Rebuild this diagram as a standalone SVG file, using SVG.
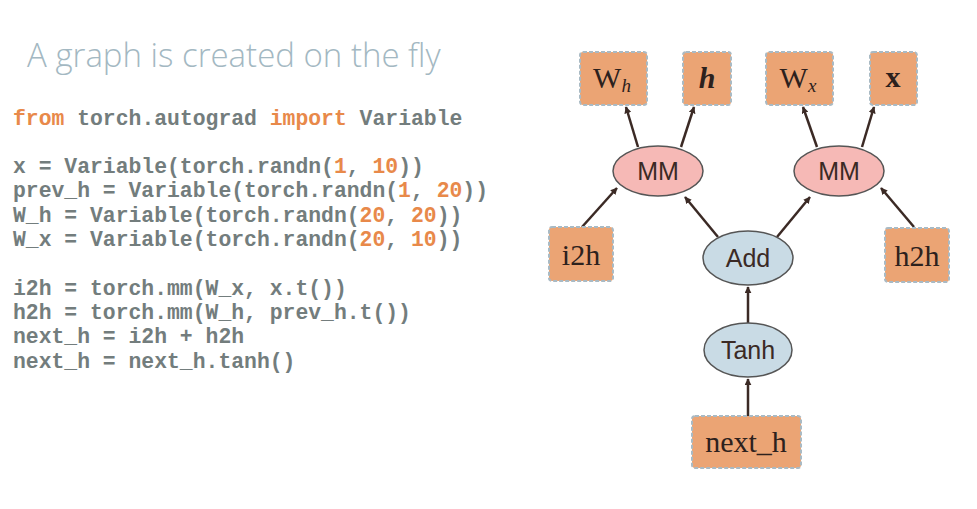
<svg xmlns="http://www.w3.org/2000/svg" width="977" height="509" viewBox="0 0 977 509">
<defs>
<marker id="ah" viewBox="0 0 10 10" refX="9" refY="5" markerWidth="7" markerHeight="7" markerUnits="userSpaceOnUse" orient="auto"><path d="M0,0 L10,5 L0,10 z" fill="#3b2a25"/></marker>
</defs>
<style>
.title{font-family:"Open Sans",sans-serif;font-weight:300;font-size:33px;fill:#a3b8c2}
.code{font-family:"Liberation Mono",monospace;font-weight:bold;font-size:21.4px;fill:#737d7d;white-space:pre}
.kw{fill:#e8894a}
.box{fill:#eba474;stroke:#a9bac4;stroke-width:2;stroke-dasharray:4 2}
.mm{fill:#f6b9b6;stroke:#555;stroke-width:1.5}
.op{fill:#c9dbe5;stroke:#555;stroke-width:1.5}
.lbl{font-family:"Liberation Sans",sans-serif;font-size:25px;fill:#3b2a25;text-anchor:middle}
.tex{font-family:"Liberation Serif",serif;font-size:30px;fill:#2d211d;text-anchor:middle}
.edge{stroke:#3b2a25;stroke-width:2.5;fill:none;marker-end:url(#ah)}
</style>
<rect width="977" height="509" fill="#fff"/>
<text class="title" x="27" y="67">A graph is created on the fly</text>
<g id="code">
<text class="code" x="13" y="125"><tspan class="kw">from</tspan> torch.autograd <tspan class="kw">import</tspan> Variable</text>
<text class="code" x="13" y="173">x = Variable(torch.randn(<tspan class="kw">1</tspan>, <tspan class="kw">10</tspan>))</text>
<text class="code" x="13" y="197">prev_h = Variable(torch.randn(<tspan class="kw">1</tspan>, <tspan class="kw">20</tspan>))</text>
<text class="code" x="13" y="222">W_h = Variable(torch.randn(<tspan class="kw">20</tspan>, <tspan class="kw">20</tspan>))</text>
<text class="code" x="13" y="246">W_x = Variable(torch.randn(<tspan class="kw">20</tspan>, <tspan class="kw">10</tspan>))</text>
<text class="code" x="13" y="295">i2h = torch.mm(W_x, x.t())</text>
<text class="code" x="13" y="319">h2h = torch.mm(W_h, prev_h.t())</text>
<text class="code" x="13" y="343">next_h = i2h + h2h</text>
<text class="code" x="13" y="368">next_h = next_h.tanh()</text>
</g>
<g id="edges">
<line class="edge" x1="638" y1="147" x2="626" y2="107"/>
<line class="edge" x1="681" y1="147" x2="694" y2="107"/>
<line class="edge" x1="817" y1="147" x2="803" y2="107"/>
<line class="edge" x1="862" y1="147" x2="874" y2="107"/>
<line class="edge" x1="582" y1="227" x2="617" y2="188"/>
<line class="edge" x1="718" y1="237" x2="685" y2="197"/>
<line class="edge" x1="777" y1="237" x2="810" y2="197"/>
<line class="edge" x1="914" y1="227" x2="881" y2="188"/>
<line class="edge" x1="748" y1="323" x2="748" y2="287"/>
<line class="edge" x1="748" y1="416" x2="748" y2="379"/>
</g>
<g id="Wh"><rect class="box" x="580" y="52" width="67" height="53" rx="3"/><text class="tex" x="612" y="88">W<tspan font-style="italic" font-size="19" dy="4">h</tspan></text></g>
<g id="h"><rect class="box" x="683" y="52" width="48" height="53" rx="3"/><text class="tex" x="707" y="88" font-style="italic" font-weight="bold">h</text></g>
<g id="Wx"><rect class="box" x="766" y="52" width="67" height="53" rx="3"/><text class="tex" x="798" y="88">W<tspan font-style="italic" font-size="19" dy="4">x</tspan></text></g>
<g id="x"><rect class="box" x="870" y="52" width="47" height="53" rx="3"/><text class="tex" x="893" y="87" font-weight="bold">x</text></g>
<g id="mm1"><ellipse class="mm" cx="658" cy="171" rx="45" ry="25"/><text class="lbl" x="658" y="180">MM</text></g>
<g id="mm2"><ellipse class="mm" cx="839" cy="171" rx="45" ry="25"/><text class="lbl" x="839" y="180">MM</text></g>
<g id="i2h"><rect class="box" x="549" y="227" width="64" height="54" rx="3"/><text class="tex" x="581" y="265">i2h</text></g>
<g id="add"><ellipse class="op" cx="748" cy="258" rx="45" ry="27"/><text class="lbl" x="748" y="267">Add</text></g>
<g id="h2h"><rect class="box" x="885" y="228" width="64" height="54" rx="3"/><text class="tex" x="917" y="266">h2h</text></g>
<g id="tanh"><ellipse class="op" cx="748" cy="350" rx="44" ry="27"/><text class="lbl" x="748" y="359">Tanh</text></g>
<g id="next_h"><rect class="box" x="692" y="416" width="109" height="52" rx="3"/><text class="tex" x="746" y="452">next_h</text></g>
</svg>
